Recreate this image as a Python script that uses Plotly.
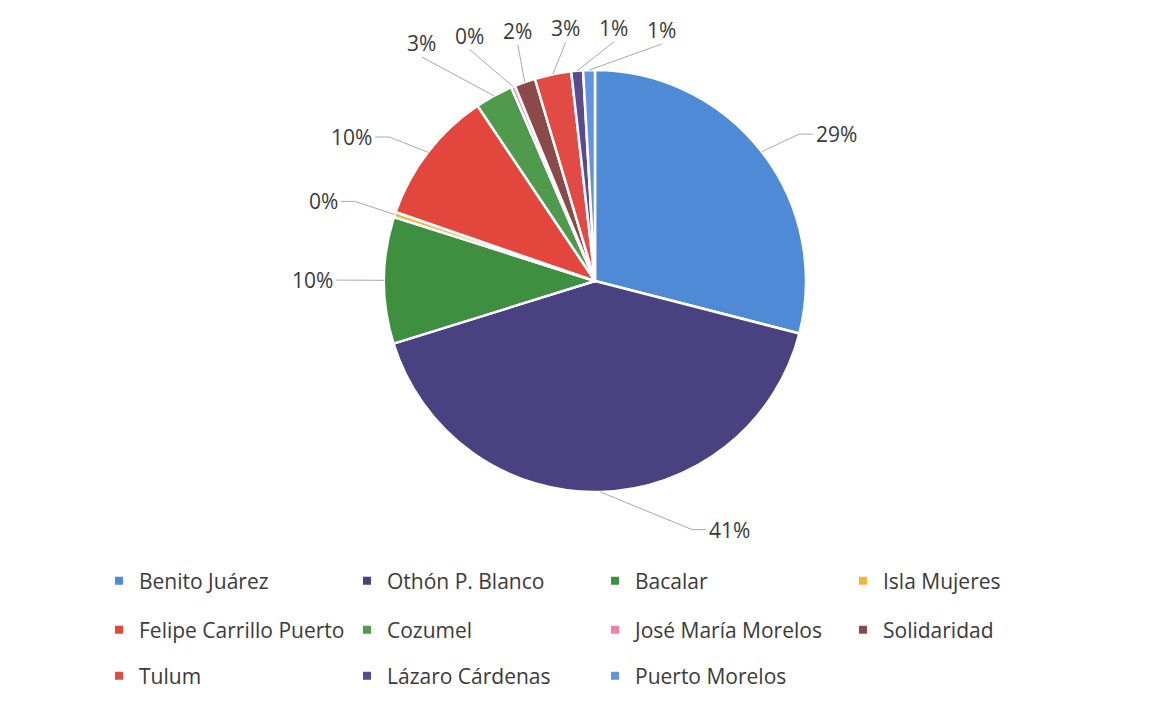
import math
import plotly.graph_objects as go

# ---------------- data ----------------
municipios = ["Benito Juárez", "Othón P. Blanco", "Bacalar", "Isla Mujeres",
              "Felipe Carrillo Puerto", "Cozumel", "José María Morelos",
              "Solidaridad", "Tulum", "Lázaro Cárdenas", "Puerto Morelos"]
porcentajes = [29.0, 41.2, 9.7, 0.4, 10.3, 2.9, 0.3, 1.6, 2.8, 0.9, 0.9]
colores = ["#4f8ad6", "#4a4181", "#3f8f41", "#f2b441", "#e2463c", "#4f9a4d",
           "#f07fb0", "#8b4a4a", "#e24a45", "#5b4b8e", "#5f95e3"]
legend_rows = [municipios[0:4], municipios[4:8], municipios[8:11]]

# ---------------- layout constants (pixels, screen coordinates) ----------------
W, H = 1171, 709
OFF = 8  # page body margin
CX, CY, R = 595, 281, 211
FONT = "Open Sans"
TXT = "#3a3a3a"
LINE = "#a9a9a9"
LABEL_ANGLE_SHIFT = {"Benito Juárez": 6.5, "Othón P. Blanco": -27,
                     "Felipe Carrillo Puerto": -7, "Isla Mujeres": -2}


def px_to_paper(x, y):
    return (x - OFF) / W, 1 - (y - OFF) / H


fig = go.Figure()
x0, y0 = px_to_paper(CX - R, CY + R)
x1, y1 = px_to_paper(CX + R, CY - R)
fig.add_trace(go.Pie(
    labels=municipios, values=porcentajes, sort=False, direction="clockwise",
    rotation=0, marker=dict(colors=colores, line=dict(color="white", width=2.5)),
    textinfo="none", hoverinfo="label+percent", showlegend=False,
    domain=dict(x=[x0, x1], y=[y0, y1]),
))

# ---------------- percentage labels with leader lines ----------------
total = sum(porcentajes)
cum = 0
labels = []
for name, v in zip(municipios, porcentajes):
    mid = (cum + v / 2) / total * 360
    cum += v
    labels.append(dict(name=name, pct=round(v / total * 100), ang=mid))

top = [l for l in labels if (l["ang"] > 325 or l["ang"] < 35)]
side = [l for l in labels if l not in top]

# side labels
for l in side:
    a = math.radians(l["ang"] + LABEL_ANGLE_SHIFT.get(l["name"], 0))
    am = math.radians(l["ang"])
    rl = 1.34 * R
    lx, ly = CX + rl * math.sin(a), CY - rl * math.cos(a)
    l["x"], l["y"] = lx, ly
    ex, ey = CX + R * math.sin(am), CY - R * math.cos(am)
    w = 13 * len(f"{l['pct']}%")
    if lx < CX:
        endx = lx + w / 2 + 4
        kx = endx + 14
    else:
        endx = lx - w / 2 - 4
        kx = endx - 14
    l["path"] = [(ex, ey), (kx, ly), (endx, ly)]

# top cluster: spread horizontally
top.sort(key=lambda l: (l["ang"] + 180) % 360)
xs0 = [CX + R * math.sin(math.radians(l["ang"])) for l in top]
gap = 48
xs = [xs0[0]]
for x in xs0[1:]:
    xs.append(max(x, xs[-1] + gap))
shift = sum(xs0) / len(xs0) - sum(xs) / len(xs)
xs = [x + shift for x in xs]
Rx, Ry = 2.4 * R, 1.2 * R
for l, x in zip(top, xs):
    dx = x - CX
    y = CY - Ry * math.sqrt(max(0, 1 - (dx / Rx) ** 2))
    l["x"], l["y"] = x, y
    am = math.radians(l["ang"])
    ex, ey = CX + R * math.sin(am), CY - R * math.cos(am)
    l["path"] = [(ex, ey), (x, y + 14)]

annotations = []
shapes = []
for l in labels:
    ax, ay = px_to_paper(l["x"], l["y"])
    annotations.append(dict(
        x=ax, y=ay, xref="paper", yref="paper", text=f"{l['pct']}%", showarrow=False,
        xanchor="center", yanchor="middle", font=dict(family=FONT, size=21, color=TXT)))
    pts = [px_to_paper(*p) for p in l["path"]]
    d = "M " + " L ".join(f"{p[0]},{p[1]}" for p in pts)
    shapes.append(dict(type="path", path=d, xref="paper", yref="paper",
                       line=dict(color=LINE, width=1)))

# ---------------- legend (three rows) ----------------
row_y = [581, 630, 676]
legend_layouts = {}
for i, row in enumerate(legend_rows):
    key = "legend" if i == 0 else f"legend{i + 1}"
    for name in row:
        c = colores[municipios.index(name)]
        fig.add_trace(go.Scatter(
            x=[None], y=[None], mode="markers", name=name, legend=key,
            marker=dict(symbol="square", size=8, color=c), hoverinfo="skip"))
    lx, ly = px_to_paper(99, row_y[i])
    legend_layouts[key] = dict(
        orientation="h", x=lx, xanchor="left", y=ly, yanchor="middle",
        entrywidth=203, entrywidthmode="pixels", bgcolor="rgba(0,0,0,0)",
        font=dict(family=FONT, size=21, color=TXT), itemclick=False, itemdoubleclick=False)

fig.update_layout(
    width=W, height=H, margin=dict(l=0, r=0, t=0, b=0),
    paper_bgcolor="white", plot_bgcolor="white",
    xaxis=dict(visible=False), yaxis=dict(visible=False),
    annotations=annotations, shapes=shapes, **legend_layouts,
)

fig.write_html("out.html")
